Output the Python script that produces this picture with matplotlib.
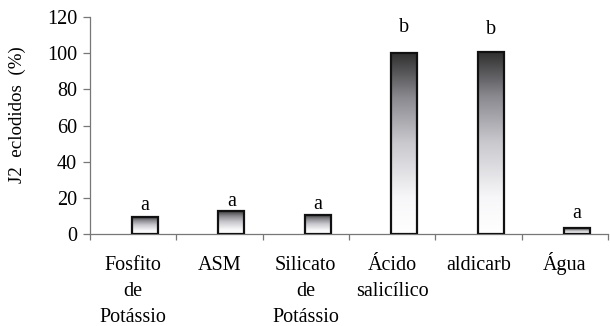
import numpy as np
import matplotlib
matplotlib.use('Agg')
import matplotlib.pyplot as plt
from matplotlib.colors import LinearSegmentedColormap

# Data
categories = ['Fosfito\nde\nPotássio', 'ASM', 'Silicato\nde\nPotássio',
              'Ácido\nsalicílico', 'aldicarb', 'Água']
values = [9.8, 12.9, 10.7, 99.8, 100.5, 3.3]
letters = ['a', 'a', 'a', 'b', 'b', 'a']
letter_y = [13.5, 15.5, 14.0, 111.5, 110.5, 9.0]
yticks = [0, 20, 40, 60, 80, 100, 120]

plt.rcParams['font.family'] = ['Liberation Serif', 'DejaVu Serif']
FS = 14.5

# Bar fill: white at the bottom, dark at the top
grad = LinearSegmentedColormap.from_list('bar', [
    (0.0, '#ffffff'), (0.2, '#f7f7f9'), (0.5, '#c9c9ce'),
    (0.75, '#8a8a90'), (1.0, '#2e2e2e')])

fig = plt.figure(figsize=(6.1, 3.26), dpi=100)
ax = fig.add_axes([0.147, 0.281, 0.850, 0.668])

x = np.arange(len(categories)) + 0.5
offset = 0.14
width = 0.30
ramp = np.linspace(0, 1, 256).reshape(-1, 1)

for xi, v, lt, ly in zip(x, values, letters, letter_y):
    x0 = xi + offset - width / 2
    ax.imshow(ramp, cmap=grad, origin='lower', aspect='auto',
              extent=(x0, x0 + width, 0, v), zorder=2, interpolation='bilinear')
    ax.bar(xi + offset, v, width=width, facecolor='none', edgecolor='#111111',
           linewidth=1.6, zorder=3)
    ax.text(xi + offset, ly, lt, ha='center', va='baseline', fontsize=FS)

# category labels, one line at a time so every first line shares a baseline
for xi, cat in zip(x, categories):
    for j, line in enumerate(cat.split('\n')):
        ax.annotate(line, xy=(xi, 0), xycoords=('data', 'axes fraction'),
                    xytext=(0, -25.7 - j * 18.7), textcoords='offset points',
                    ha='center', va='baseline', fontsize=FS,
                    annotation_clip=False)

ax.set_xlim(0, 6)
ax.set_ylim(0, 120)
ax.set_yticks(yticks)
ax.set_xticks(np.arange(0, 7))
ax.set_xticklabels([])

for side in ['top', 'right']:
    ax.spines[side].set_visible(False)
for side in ['left', 'bottom']:
    ax.spines[side].set_color('#777777')
    ax.spines[side].set_linewidth(0.9)

ax.tick_params(axis='y', direction='out', length=5, width=0.9, color='#777777',
               labelsize=FS, pad=4)
ax.tick_params(axis='x', direction='out', length=4, width=0.9,
               color='#777777')

ax.set_ylabel('J2  eclodidos  (%)', fontsize=13.7)
ax.yaxis.set_label_coords(-0.123, 0.548)

fig.savefig('out.png', dpi=100)
